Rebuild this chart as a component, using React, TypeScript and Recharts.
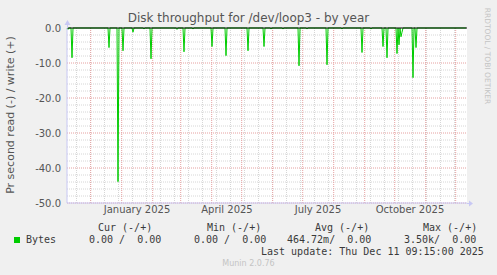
import React from 'react';
import { LineChart, Line, XAxis, YAxis, CartesianGrid, ReferenceLine } from 'recharts';

// one x unit = one day, day 0 is the left edge of the yearly graph
const readSpikeDays = [1, 5, 42, 51, 56, 66, 77, 84, 110, 117, 126, 145, 159, 181, 197, 204, 216, 232, 240, 260, 275, 295, 304, 316, 320, 330, 332, 334, 335, 346, 349];
const readSpikeValues = [-0.4, -8.5, -5.6, -43.9, -6.5, -1.2, -0.3, -8.8, -0.4, -6.8, -0.3, -5.3, -7.9, -6.5, -5.3, -0.3, -0.3, -10.8, -0.3, -10.5, -0.3, -7.0, -0.3, -5.3, -8.5, -7.3, -4.8, -2.5, -1.2, -14.2, -5.6];

const monthTickDays = [70, 160, 251, 343];
const monthTickLabels = ['January 2025', 'April 2025', 'July 2025', 'October 2025'];
const monthStartDays = [23.7, 54.7, 85.7, 113.7, 144.7, 174.7, 205.7, 235.7, 266.7, 297.7, 327.7, 358.7, 388.7];
const weekGridDays = [9.5, 23.5, 37.5, 51.5, 65.5, 79.5, 93.5, 107.5, 121.5, 135.5, 149.5, 163.5, 177.5, 191.5, 205.5, 219.5, 233.5, 247.5, 261.5, 275.5, 289.5, 303.5, 317.5, 331.5, 345.5, 359.5, 373.5, 387.5];
const yTicks = [0, -10, -20, -30, -40, -50];
const yMinorTicks = [-2, -4, -6, -8, -12, -14, -16, -18, -22, -24, -26, -28, -32, -34, -36, -38, -42, -44, -46, -48];

const data: { day: number; read: number }[] = [];
for (let d = 0; d < 400; d++) {
  const i = readSpikeDays.indexOf(d);
  data.push({ day: d, read: i >= 0 ? readSpikeValues[i] : 0 });
}

const MINOR = '#d6d6d6';
const MAJOR = '#e6a0a0';
const AXIS = '#c8c8f4';
const GREEN = '#00cc00';

const mono: React.CSSProperties = {
  position: 'absolute',
  fontFamily: '"DejaVu Sans Mono", monospace',
  fontSize: 10,
  lineHeight: '12px',
  color: '#3a3a3a',
  whiteSpace: 'pre',
};

const txt = (left: number, cy: number, s: string) => (
  <div style={{ ...mono, left, top: cy - 6 }}>{s}</div>
);

export default function App() {
  return (
    <div style={{ position: 'fixed', left: 0, top: 0, width: 497, height: 275, background: '#f0f0f0', overflow: 'hidden' }}>
      <LineChart width={497} height={275} data={data} margin={{ top: 28, right: 30, bottom: 52, left: 0 }}>
        <CartesianGrid horizontal={false} vertical={false} fill="#ffffff" />
        {weekGridDays.map((d) => (
          <ReferenceLine key={'w' + d} x={d} stroke={MINOR} strokeDasharray="1 1" />
        ))}
        {yMinorTicks.map((v) => (
          <ReferenceLine key={'h' + v} y={v} stroke={MINOR} strokeDasharray="1 1" />
        ))}
        {monthStartDays.map((d) => (
          <ReferenceLine key={'m' + d} x={d} stroke={MAJOR} strokeDasharray="1 1" />
        ))}
        {yTicks.slice(1).map((v) => (
          <ReferenceLine key={'H' + v} y={v} stroke={MAJOR} strokeDasharray="1 1" />
        ))}
        <XAxis
          dataKey="day"
          type="number"
          domain={[0, 400]}
          ticks={monthTickDays}
          tickFormatter={(v) => monthTickLabels[monthTickDays.indexOf(v)]}
          interval={0}
          height={20}
          tickSize={0}
          tickMargin={3}
          stroke={AXIS}
          tick={{ fill: '#555', fontSize: 10, fontFamily: '"DejaVu Sans", sans-serif' }}
        />
        <YAxis
          type="number"
          domain={[-50, 0]}
          ticks={yTicks}
          interval={0}
          width={67}
          tickSize={0}
          tickMargin={6}
          stroke={AXIS}
          tickFormatter={(v) => v.toFixed(1)}
          tick={{ fill: '#555', fontSize: 10, fontFamily: '"DejaVu Sans", sans-serif' }}
        />
        <Line type="linear" dataKey="read" stroke={GREEN} strokeWidth={1} dot={false} isAnimationActive={false} />
        <ReferenceLine y={0} stroke="#000" strokeWidth={1} />
      </LineChart>

      <svg width={497} height={275} style={{ position: 'absolute', left: 0, top: 0, pointerEvents: 'none' }}>
        <line x1={67.5} y1={28} x2={67.5} y2={22} stroke={AXIS} />
        <polygon points="64.5,25 70.5,25 67.5,20" fill={AXIS} />
        <line x1={467} y1={203.5} x2={470} y2={203.5} stroke={AXIS} />
        <polygon points="469,200.5 469,206.5 473,203.5" fill={AXIS} />
      </svg>

      <div style={{ position: 'absolute', left: 0, width: 497, top: 11, textAlign: 'center', fontFamily: '"DejaVu Sans", sans-serif', fontSize: 12, lineHeight: '14px', color: '#555' }}>
        Disk throughput for /dev/loop3 - by year
      </div>
      <div style={{ position: 'absolute', left: 11, top: 115, transform: 'translate(-50%, -50%) rotate(-90deg)', whiteSpace: 'nowrap', fontFamily: '"DejaVu Sans", sans-serif', fontSize: 11, lineHeight: '12px', color: '#555' }}>
        Pr second read (-) / write (+)
      </div>
      <div style={{ position: 'absolute', left: 487, top: 56, transform: 'translate(-50%, -50%) rotate(90deg)', whiteSpace: 'nowrap', fontFamily: '"DejaVu Sans", sans-serif', fontSize: 7.5, lineHeight: '8px', color: '#c4c4c4' }}>
        RRDTOOL / TOBI OETIKER
      </div>

      {txt(98, 228, 'Cur (-/+)')}
      {txt(207, 228, 'Min (-/+)')}
      {txt(315, 228, 'Avg (-/+)')}
      {txt(423, 228, 'Max (-/+)')}
      <div style={{ position: 'absolute', left: 14, top: 237, width: 6, height: 6, background: GREEN }} />
      {txt(26, 239.5, 'Bytes')}
      {txt(89, 239.5, '0.00 /  0.00')}
      {txt(194, 239.5, '0.00 /  0.00')}
      {txt(287, 239.5, '464.72m/  0.00')}
      {txt(404, 239.5, '3.50k/  0.00')}
      {txt(261, 251.7, 'Last update: Thu Dec 11 09:15:00 2025')}
      <div style={{ position: 'absolute', left: 0, width: 497, top: 259, textAlign: 'center', fontFamily: '"DejaVu Sans", sans-serif', fontSize: 8, lineHeight: '10px', color: '#c4c4c4' }}>
        Munin 2.0.76
      </div>
    </div>
  );
}
